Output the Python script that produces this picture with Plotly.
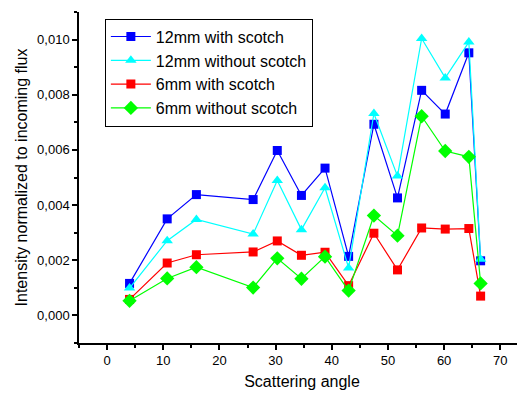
import plotly.graph_objects as go

angles = [4, 10.7, 15.9, 26, 30.3, 34.6, 38.8, 43, 47.5, 51.7, 56, 60.2, 64.4, 66.5]
mm12_with = [0.00116, 0.0035, 0.00438, 0.0042, 0.00598, 0.00435, 0.00534, 0.00214,
             0.00693, 0.00426, 0.00816, 0.0073, 0.00952, 0.00198]
mm12_without = [0.00099, 0.00271, 0.00348, 0.00295, 0.00489, 0.00311, 0.00463, 0.00172,
                0.00732, 0.00505, 0.01004, 0.00861, 0.00991, 0.00204]
mm6_with = [0.00058, 0.0019, 0.0022, 0.0023, 0.0027, 0.00218, 0.00229, 0.00108,
            0.00298, 0.00165, 0.00317, 0.00313, 0.00315, 0.0007]
mm6_without = [0.00053, 0.00134, 0.00175, 0.00101, 0.00207, 0.00133, 0.00213, 0.0009,
               0.00362, 0.00289, 0.00722, 0.00596, 0.00575, 0.00116]

series = [
    ("12mm with scotch", mm12_with, "#0000FF", "square", 9),
    ("12mm without scotch", mm12_without, "#00FFFF", "triangle-up", 10),
    ("6mm with scotch", mm6_with, "#FF0000", "square", 9),
    ("6mm without scotch", mm6_without, "#00FF00", "diamond", 11),
]

fig = go.Figure()
for name, vals, color, sym, size in series:
    fig.add_trace(go.Scatter(
        x=angles, y=vals, name=name, mode="lines+markers",
        line=dict(color=color, width=1.2),
        marker=dict(color=color, symbol=sym, size=size, line=dict(width=0)),
    ))

font = "Liberation Sans, Arial, sans-serif"
fig.update_layout(
    width=517, height=386,
    margin=dict(l=71, r=0, t=4, b=51),
    paper_bgcolor="white", plot_bgcolor="white",
    separators=",.",
    font=dict(family=font, size=13, color="black"),
    showlegend=True,
    legend=dict(x=0.058, y=0.98, xanchor="left", yanchor="top",
                bordercolor="black", borderwidth=1, bgcolor="white",
                font=dict(size=16, family=font), tracegroupgap=0,
                itemwidth=40),
    xaxis=dict(range=[-5, 74.4], showgrid=False, zeroline=False,
               showline=True, linecolor="black", linewidth=1.5,
               ticks="outside", ticklen=5, tickwidth=1.5, tickcolor="black",
               dtick=10, tick0=0,
               minor=dict(ticks="outside", ticklen=3, dtick=5, tick0=0, tickcolor="black", tickwidth=1.5),
               title=dict(text="Scattering angle", font=dict(size=16), standoff=8),
               tickfont=dict(size=13)),
    yaxis=dict(range=[-0.001, 0.011], showgrid=False, zeroline=False,
               showline=True, linecolor="black", linewidth=1.5,
               ticks="outside", ticklen=5, tickwidth=1.5, tickcolor="black",
               dtick=0.002, tick0=0, tickformat=".3f",
               minor=dict(ticks="outside", ticklen=3, dtick=0.001, tick0=0, tickcolor="black", tickwidth=1.5),
               title=dict(text="Intensity normalized to incoming flux", font=dict(size=16), standoff=6),
               tickfont=dict(size=13)),
)

fig.write_html("out.html")
